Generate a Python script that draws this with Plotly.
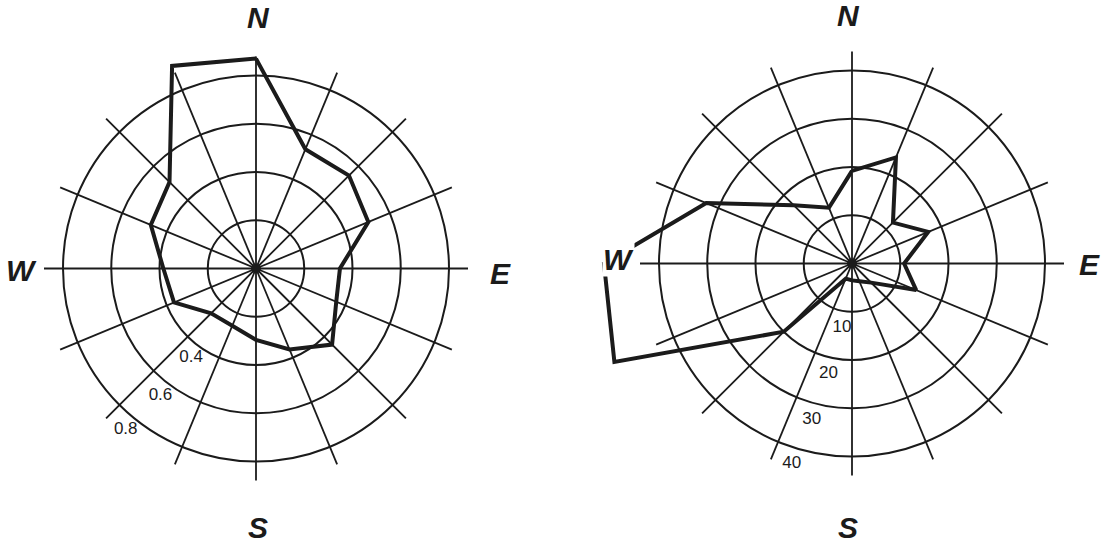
import plotly.graph_objects as go

FIG_W, FIG_H = 1104, 544

# 16 wind directions, clockwise from north
directions = ["N", "NNE", "NE", "ENE", "E", "ESE", "SE", "SSE",
              "S", "SSW", "SW", "WSW", "W", "WNW", "NW", "NNW"]
bearings = [i * 22.5 for i in range(len(directions))]

# left rose (dimensionless index)
left_values = [0.870, 0.535, 0.545, 0.504, 0.348, 0.360, 0.446, 0.363,
               0.296, 0.257, 0.263, 0.368, 0.384, 0.472, 0.507, 0.909]
left_rings = [0.2, 0.4, 0.6, 0.8]
left_ring_labels = ["0.4", "0.6", "0.8"]

# right rose (hours)
right_values = [19.2, 23.8, 12.0, 17.1, 10.8, 14.4, 5.6, 4.0,
                3.5, 3.4, 20.0, 53.3, 51.4, 32.7, 17.1, 12.5]
right_rings = [10, 20, 30, 40]
right_ring_labels = ["10", "20", "30", "40"]

# ---- geometry (pixels) ----
RING_PX = 193.0     # radius of the outermost ring
SPOKE_PX = 212.0    # length of the radial spokes
INK = "#1b1b1b"
GRID_W = 1.8
ROSE_W = 4.0


def polar_domain(cx, cy, rad, half=None):
    x0, x1 = cx - rad, cx + rad
    if half == "west":
        x1 = cx
    return dict(x=[max(0.0, x0 / FIG_W), min(1.0, x1 / FIG_W)],
                y=[max(0.0, 1 - (cy + rad) / FIG_H), min(1.0, 1 - (cy - rad) / FIG_H)])


def polar_layout(cx, cy, rad, rings, half=None, grid=True):
    outer = rings[-1]
    lay = dict(
        domain=polar_domain(cx, cy, rad, half),
        bgcolor="rgba(0,0,0,0)",
        angularaxis=dict(rotation=90, direction="clockwise", showgrid=False,
                         showline=False, showticklabels=False, ticks=""),
        radialaxis=dict(range=[0, outer * rad / RING_PX], tickvals=rings,
                        showgrid=grid, gridcolor=INK, gridwidth=GRID_W,
                        showline=False, showticklabels=False, ticks=""),
    )
    if half == "west":
        lay["sector"] = [90, 270]
    return lay


def grid_traces(subplot, rings, labels, label_r_offset, label_bearings, label_rings):
    outer = rings[-1]
    spoke_len = outer * SPOKE_PX / RING_PX
    sr, st = [], []
    for b in bearings:
        sr += [0, spoke_len, None]
        st += [b, b, None]
    return [
        go.Scatterpolar(r=sr, theta=st, mode="lines", subplot=subplot,
                        line=dict(color=INK, width=GRID_W), hoverinfo="skip"),
        go.Scatterpolar(r=[0], theta=[0], mode="markers", subplot=subplot,
                        marker=dict(color=INK, size=10), hoverinfo="skip"),
        go.Scatterpolar(r=[v + label_r_offset for v in label_rings], theta=label_bearings,
                        text=labels, mode="text", subplot=subplot, cliponaxis=False,
                        textfont=dict(family="Liberation Sans, Arial", size=17, color=INK),
                        hoverinfo="skip"),
    ]


def rose_line(subplot, r, theta):
    return go.Scatterpolar(r=r, theta=theta, mode="lines", subplot=subplot,
                           line=dict(color=INK, width=ROSE_W))


fig = go.Figure()

# left rose
for tr in grid_traces("polar", left_rings, left_ring_labels,
                      0.058, [216, 217, 219], left_rings[1:]):
    fig.add_trace(tr)
fig.add_trace(rose_line("polar", left_values + left_values[:1], bearings + [360]))

# right rose: east half on the full subplot, west half on a wider half-disc subplot
for tr in grid_traces("polar2", right_rings, right_ring_labels,
                      3.4, [189, 192, 194.5, 196.7], right_rings):
    fig.add_trace(tr)
fig.add_trace(rose_line("polar2", right_values[:9], bearings[:9]))
fig.add_trace(rose_line("polar3", right_values[8:] + right_values[:1], bearings[8:] + [360]))

# compass letters
compass = [
    ("N", 258, 17), ("W", 22, 270), ("E", 500, 273), ("S", 258, 527),
    ("N", 848, 15), ("W", 618, 259), ("E", 1089, 264), ("S", 848, 527),
]
annotations = []
for txt, px, py in compass:
    annotations.append(dict(
        text=f"<b><i>{txt}</i></b>", x=px / FIG_W, y=1 - py / FIG_H,
        xref="paper", yref="paper", xanchor="center", yanchor="middle",
        showarrow=False, bgcolor="white", borderpad=0,
        font=dict(family="Liberation Sans, Arial", size=30, color=INK)))

CX2, CY2 = 852, 263.5
fig.update_layout(
    width=FIG_W, height=FIG_H,
    margin=dict(l=0, r=0, t=0, b=0),
    paper_bgcolor="white", plot_bgcolor="white",
    showlegend=False,
    polar=polar_layout(256, 268.5, 245, left_rings),
    polar2=polar_layout(CX2, CY2, FIG_W - CX2, right_rings),
    polar3=polar_layout(CX2, CY2, 262, right_rings, half="west", grid=False),
    annotations=annotations,
)

fig.write_html("out.html")
